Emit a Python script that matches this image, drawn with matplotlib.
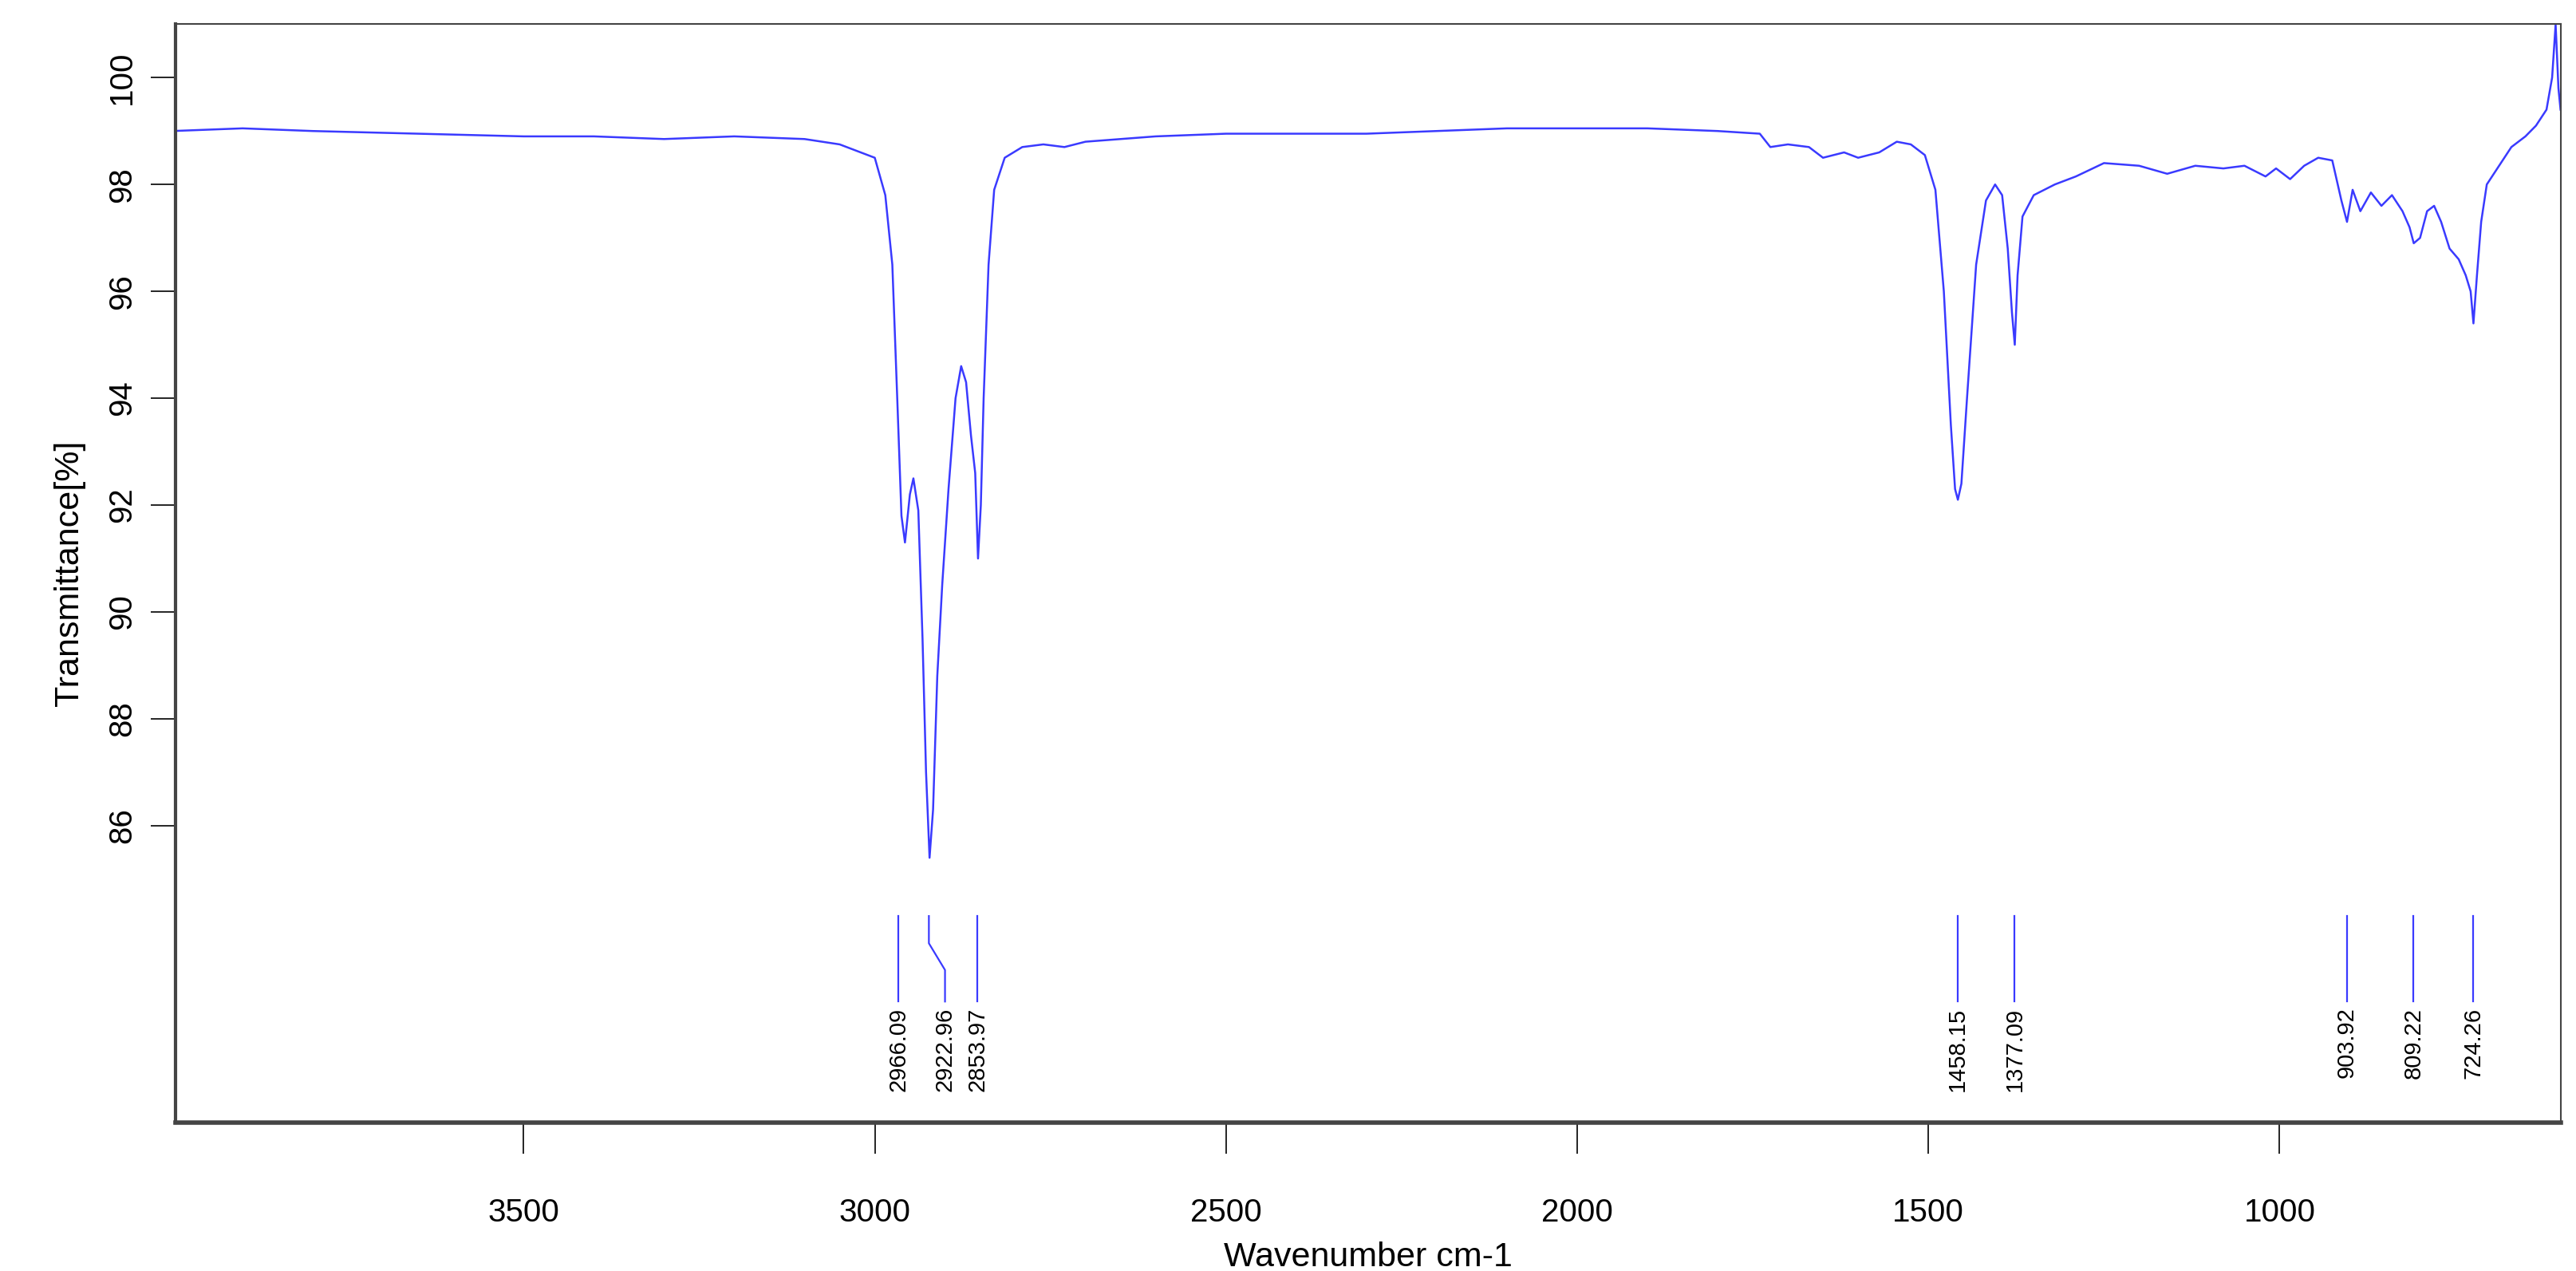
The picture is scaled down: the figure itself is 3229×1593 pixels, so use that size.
import numpy as np
import matplotlib
matplotlib.use('Agg')
import matplotlib.pyplot as plt

# ── Spectrum control points ───────────────────────────────────────────────
wavenumber = [4000, 3900, 3800, 3650, 3500, 3400, 3300, 3200, 3100, 3050, 3000, 2985, 2975,
              2968, 2962, 2957, 2950, 2945, 2938, 2932, 2927, 2922, 2917, 2911, 2904, 2895,
              2885, 2877, 2870, 2863, 2857, 2853, 2849, 2845, 2838, 2830, 2815, 2790, 2760,
              2730, 2700, 2600, 2500, 2400, 2300, 2200, 2100, 2000, 1900, 1800, 1740, 1725,
              1700, 1670, 1650, 1620, 1600, 1570, 1545, 1525, 1505, 1490, 1478, 1468, 1462,
              1458, 1453, 1445, 1432, 1418, 1405, 1395, 1387, 1381, 1377, 1373, 1366, 1350,
              1320, 1290, 1250, 1200, 1160, 1120, 1080, 1050, 1020, 1005, 985, 965, 945,
              925, 912, 904, 896, 885, 870, 855, 840, 825, 815, 809, 800, 790, 780, 770,
              758, 745, 735, 728, 724, 719, 713, 705, 690, 670, 650, 635, 620, 612, 607,
              603, 600]
transmittance = [99.0, 99.05, 99.0, 98.95, 98.9, 98.9, 98.85, 98.9, 98.85, 98.75, 98.5, 97.8, 96.5,
                 94.0, 91.8, 91.3, 92.2, 92.5, 91.9, 89.5, 87.0, 85.4, 86.3, 88.8, 90.5, 92.3,
                 94.0, 94.6, 94.3, 93.3, 92.6, 91.0, 92.0, 94.0, 96.5, 97.9, 98.5, 98.7, 98.75,
                 98.7, 98.8, 98.9, 98.95, 98.95, 98.95, 99.0, 99.05, 99.05, 99.05, 99.0, 98.95, 98.7,
                 98.75, 98.7, 98.5, 98.6, 98.5, 98.6, 98.8, 98.75, 98.55, 97.9, 96.0, 93.5, 92.3,
                 92.1, 92.4, 94.0, 96.5, 97.7, 98.0, 97.8, 96.8, 95.6, 95.0, 96.3, 97.4, 97.8,
                 98.0, 98.15, 98.4, 98.35, 98.2, 98.35, 98.3, 98.35, 98.15, 98.3, 98.1, 98.35, 98.5,
                 98.45, 97.7, 97.3, 97.9, 97.5, 97.85, 97.6, 97.8, 97.5, 97.2, 96.9, 97.0, 97.5,
                 97.6, 97.3, 96.8, 96.6, 96.3, 96.0, 95.4, 96.3, 97.3, 98.0, 98.3, 98.7, 98.9,
                 99.1, 99.4, 100.0, 101.0, 99.8, 99.4]

# ── Peak picks ──────────────────────────────────────────────────────────────
peak_pos = [2966.09, 2922.96, 2853.97, 1458.15, 1377.09, 903.92, 809.22, 724.26]
peak_labels = ["2966.09", "2922.96", "2853.97", "1458.15", "1377.09", "903.92", "809.22", "724.26"]

x_ticks = [3500, 3000, 2500, 2000, 1500, 1000]
y_ticks = [86, 88, 90, 92, 94, 96, 98, 100]

plt.rcParams['font.family'] = ['Liberation Sans Narrow', 'Liberation Sans', 'DejaVu Sans']

fig = plt.figure(figsize=(32.29, 15.93), dpi=100)
ax = fig.add_axes([0.068, 0.117, 0.926, 0.864])

line_col = "#3a3aff"
ax.plot(wavenumber, transmittance, color=line_col, lw=1.8)

# peak marker lines + labels
for pos, lab in zip(peak_pos, peak_labels):
    if lab == "2922.96":
        ax.plot([pos, pos, 2900, 2900], [84.31, 83.8, 83.3, 82.71], color=line_col, lw=1.6)
        tx = 2900
    else:
        ax.plot([pos, pos], [84.31, 82.71], color=line_col, lw=1.6)
        tx = pos
    ax.text(tx, 82.6, lab, rotation=90, ha="center", va="top", fontsize=21)

ax.set_xlim(3996, 600)
ax.set_ylim(80.45, 101.0)
ax.set_xticks(x_ticks)
ax.set_yticks(y_ticks)
ax.tick_params(axis="x", length=28, width=1.2, labelsize=29, pad=40)
ax.tick_params(axis="y", length=22, width=1.2, labelsize=29, pad=12, labelrotation=90)
for lbl in ax.get_yticklabels():
    lbl.set_va("center")
for s in ax.spines.values():
    s.set_linewidth(1.5)
    s.set_color("#444444")
ax.spines["bottom"].set_linewidth(4)
ax.spines["left"].set_linewidth(3)

ax.set_xlabel("Wavenumber cm-1", fontsize=31, labelpad=12)
ax.set_ylabel("Transmittance[%]", fontsize=31, labelpad=20)

fig.savefig("out.png", dpi=100)
